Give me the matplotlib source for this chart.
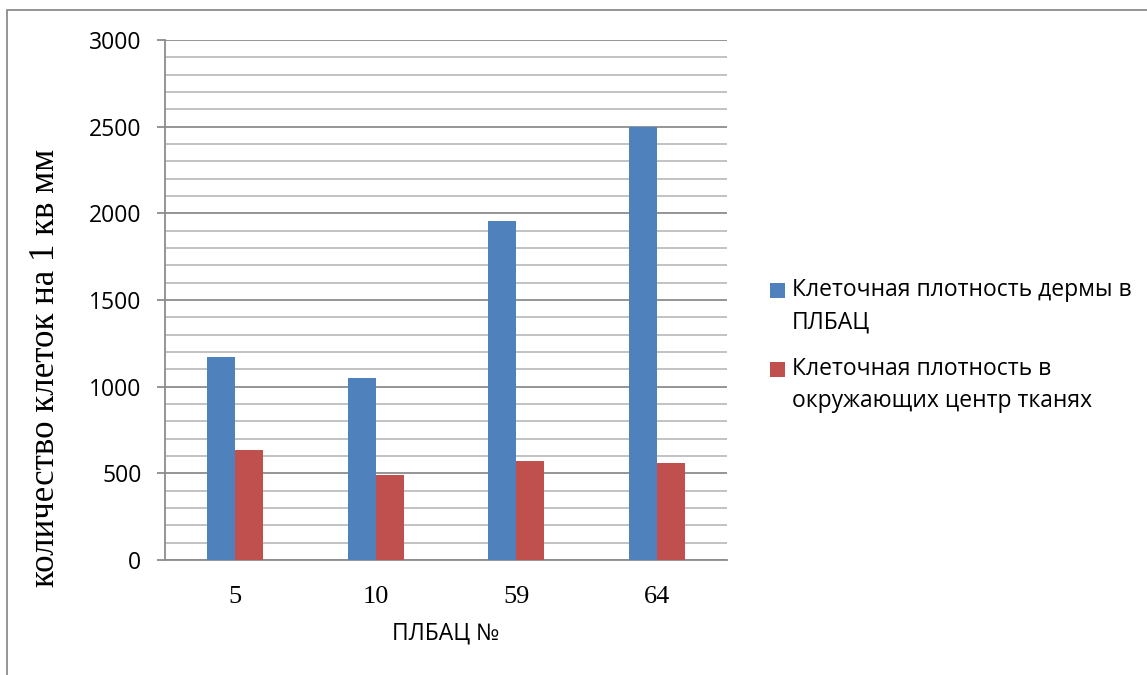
import matplotlib
matplotlib.use("Agg")
import matplotlib.pyplot as plt
import numpy as np
from matplotlib.patches import Rectangle
from matplotlib.ticker import MultipleLocator

# ---- data ----
categories = ["5", "10", "59", "64"]
dermis_density = [1170, 1048, 1953, 2497]
surrounding_density = [634, 490, 570, 562]
series_labels = ["Клеточная плотность дермы в\nПЛБАЦ",
                 "Клеточная плотность в\nокружающих центр тканях"]
y_label = "количество клеток на 1 кв мм"
x_label = "ПЛБАЦ №"

blue = "#4F81BD"
red = "#C0504D"
W, H = 1147, 675
DPI = 100

sans = ["Open Sans", "DejaVu Sans"]
serif = ["Liberation Serif", "DejaVu Serif"]

fig = plt.figure(figsize=(W / DPI, H / DPI), dpi=DPI)
fig.patch.set_facecolor("white")

# axes placed in pixel terms
l, r, t, b = 165, 727, 40, 560
ax = fig.add_axes([l / W, 1 - b / H, (r - l) / W, (b - t) / H])

x = np.arange(len(categories))
bw = 0.2
ax.bar(x - bw / 2, dermis_density, width=bw, color=blue, zorder=3)
ax.bar(x + bw / 2, surrounding_density, width=bw, color=red, zorder=3)

ax.set_xlim(-0.5, len(categories) - 0.5)
ax.set_ylim(0, 3000)
ax.yaxis.set_major_locator(MultipleLocator(500))
ax.yaxis.set_minor_locator(MultipleLocator(100))
ax.grid(which="major", axis="y", color="#8C8C8C", linewidth=1.3, zorder=0)
ax.grid(which="minor", axis="y", color="#BDBDBD", linewidth=1.3, zorder=0)
ax.set_axisbelow(True)

for s in ["top", "right"]:
    ax.spines[s].set_visible(False)
ax.spines["left"].set_color("#8C8C8C")
ax.spines["left"].set_linewidth(1.3)
ax.spines["bottom"].set_color("#8C8C8C")
ax.spines["bottom"].set_linewidth(1.3)

ax.set_xticks(x)
ax.set_xticklabels(categories)
ax.tick_params(axis="x", length=0, pad=19, labelsize=19)
ax.tick_params(axis="y", which="major", length=6, width=1.3, color="#8C8C8C",
               pad=11, labelsize=16.5)
ax.tick_params(axis="y", which="minor", length=0)
for lab in ax.get_xticklabels():
    lab.set_fontfamily(serif)
for lab in ax.get_yticklabels():
    lab.set_fontfamily(sans)

# axis titles
fig.text(446 / W, 1 - 634 / H, x_label, ha="center", va="center",
         fontfamily=sans, fontsize=16.5)
fig.text(46 / W, 1 - 368 / H, y_label, rotation=90, ha="center", va="center",
         fontfamily=serif, fontsize=25)

# legend (manual, square aligned with first text line)
colors = [blue, red]
tops = [283, 362]
for c, ytop, lab in zip(colors, tops, series_labels):
    fig.patches.append(Rectangle((770 / W, 1 - (ytop + 15) / H), 15 / W, 15 / H,
                                 transform=fig.transFigure, facecolor=c,
                                 edgecolor="none"))
    fig.text(792 / W, 1 - (ytop - 5) / H, lab, ha="left", va="top",
             fontfamily=sans, fontsize=16.5, linespacing=1.45)

# outer chart border
fig.patches.append(Rectangle((6.5 / W, -0.1), 1.2, 1 - 10 / H + 0.1,
                             transform=fig.transFigure, facecolor="none",
                             edgecolor="#8C8C8C", linewidth=1.3))

fig.savefig("out.png", dpi=DPI)
